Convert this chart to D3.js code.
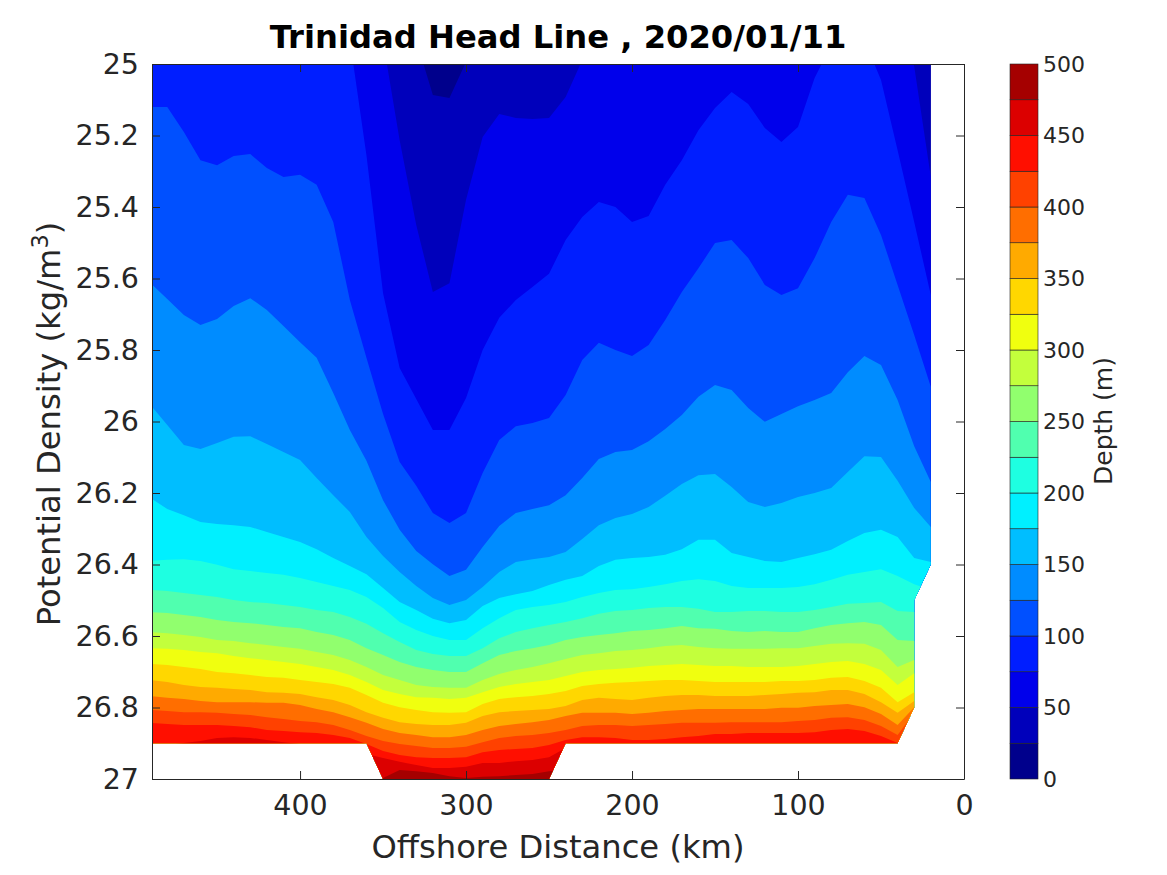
<!DOCTYPE html>
<html>
<head>
<meta charset="utf-8">
<script src="https://cdn.jsdelivr.net/npm/d3@7"></script>
<style>
body { margin: 0; background: #fff; }
text { font-family: "DejaVu Sans", sans-serif; }
</style>
</head>
<body>
<div id="chart"></div>
<script>
// stations along the line, km offshore
const distanceKm = [490,480,470,460,450,440,430,420,410,400,390,380,370,360,350,340,330,320,310,300,290,280,270,260,250,240,230,220,210,200,190,180,170,160,150,140,130,120,110,100,90,80,70,60,50,40,30,20];

// density of each depth surface at every station (values under 25 are above the plot)
const iso25 = [24.8,24.8,24.8,24.8,24.8,24.8,24.8,24.8,24.8,24.8,24.8,24.8,24.8,24.8,24.8,24.8,24.933,25.087,25.095,24.994,24.9,24.8,24.8,24.8,24.8,24.8,24.8,24.8,24.8,24.8,24.8,24.8,24.8,24.8,24.8,24.8,24.8,24.8,24.8,24.8,24.8,24.8,24.8,24.8,24.8,24.8,24.8,24.8];
const iso50 = [24.8,24.8,24.8,24.8,24.8,24.8,24.8,24.8,24.8,24.8,24.8,24.8,24.8,24.8,24.936,25.213,25.450,25.638,25.613,25.380,25.204,25.140,25.151,25.154,25.151,25.092,24.989,24.905,24.8,24.8,24.8,24.8,24.8,24.8,24.8,24.8,24.8,24.8,24.8,24.8,24.8,24.8,24.8,24.8,24.8,24.9,25.006,25.316];
const iso75 = [24.8,24.8,24.8,24.8,24.8,24.8,24.8,24.8,24.8,24.8,24.8,24.8,24.933,25.255,25.641,25.850,25.937,26.024,26.024,25.934,25.800,25.710,25.660,25.624,25.587,25.492,25.428,25.386,25.400,25.442,25.425,25.338,25.269,25.185,25.123,25.078,25.112,25.179,25.218,25.176,25.039,24.947,24.905,24.933,25.045,25.241,25.442,25.646];
const iso100 = [25.120,25.120,25.190,25.269,25.283,25.257,25.252,25.291,25.316,25.310,25.338,25.442,25.660,25.822,25.979,26.113,26.180,26.256,26.284,26.256,26.144,26.052,26.013,26.004,25.990,25.926,25.828,25.780,25.800,25.817,25.786,25.716,25.638,25.571,25.501,25.492,25.543,25.618,25.646,25.627,25.543,25.442,25.366,25.375,25.478,25.618,25.758,25.903];
const iso125 = [25.613,25.657,25.702,25.730,25.713,25.677,25.655,25.688,25.733,25.778,25.822,25.920,26.024,26.110,26.220,26.303,26.362,26.399,26.432,26.415,26.351,26.292,26.256,26.245,26.234,26.206,26.158,26.105,26.085,26.080,26.055,26.021,25.982,25.931,25.898,25.912,25.962,26.001,25.979,25.957,25.940,25.920,25.862,25.817,25.842,25.940,26.069,26.169];
const iso150 = [25.954,26.010,26.066,26.077,26.060,26.043,26.041,26.063,26.085,26.108,26.158,26.206,26.253,26.323,26.376,26.421,26.460,26.494,26.513,26.499,26.463,26.421,26.393,26.385,26.379,26.365,26.329,26.290,26.270,26.259,26.239,26.208,26.175,26.150,26.147,26.183,26.225,26.239,26.228,26.211,26.200,26.186,26.141,26.097,26.099,26.166,26.242,26.295];
const iso175 = [26.214,26.245,26.262,26.281,26.287,26.290,26.295,26.309,26.323,26.337,26.357,26.382,26.404,26.427,26.466,26.505,26.527,26.552,26.564,26.555,26.516,26.494,26.483,26.474,26.457,26.443,26.432,26.404,26.387,26.382,26.379,26.373,26.357,26.331,26.331,26.368,26.379,26.390,26.393,26.382,26.371,26.359,26.334,26.312,26.303,26.323,26.382,26.393];
const iso200 = [26.390,26.387,26.385,26.390,26.401,26.413,26.418,26.424,26.429,26.438,26.449,26.460,26.471,26.491,26.522,26.561,26.583,26.600,26.611,26.611,26.578,26.550,26.527,26.519,26.513,26.505,26.491,26.480,26.471,26.469,26.463,26.455,26.446,26.441,26.446,26.460,26.466,26.466,26.466,26.463,26.455,26.443,26.429,26.421,26.413,26.432,26.455,26.471];
const iso225 = [26.471,26.474,26.480,26.485,26.491,26.499,26.505,26.508,26.513,26.519,26.527,26.533,26.547,26.566,26.592,26.617,26.639,26.650,26.656,26.656,26.634,26.606,26.589,26.578,26.569,26.561,26.550,26.538,26.530,26.527,26.522,26.519,26.519,26.524,26.533,26.533,26.530,26.530,26.533,26.533,26.527,26.519,26.510,26.508,26.505,26.530,26.533,26.541];
const iso250 = [26.533,26.536,26.541,26.547,26.555,26.561,26.564,26.569,26.575,26.578,26.589,26.597,26.611,26.634,26.653,26.673,26.687,26.695,26.701,26.701,26.676,26.653,26.642,26.634,26.625,26.611,26.603,26.597,26.592,26.586,26.583,26.578,26.572,26.578,26.580,26.586,26.589,26.586,26.589,26.589,26.578,26.569,26.564,26.561,26.569,26.611,26.614,26.625];
const iso275 = [26.589,26.592,26.597,26.603,26.611,26.614,26.620,26.625,26.631,26.636,26.645,26.653,26.667,26.687,26.709,26.723,26.737,26.743,26.745,26.745,26.723,26.706,26.695,26.687,26.676,26.664,26.653,26.648,26.642,26.639,26.634,26.628,26.625,26.631,26.634,26.636,26.636,26.636,26.634,26.634,26.628,26.622,26.620,26.622,26.639,26.687,26.667,26.673];
const iso300 = [26.634,26.636,26.639,26.645,26.648,26.656,26.662,26.667,26.673,26.678,26.687,26.695,26.709,26.729,26.751,26.762,26.771,26.773,26.776,26.773,26.757,26.743,26.734,26.729,26.723,26.712,26.701,26.695,26.692,26.689,26.684,26.681,26.678,26.681,26.684,26.684,26.687,26.687,26.687,26.684,26.678,26.673,26.670,26.678,26.695,26.737,26.704,26.709];
const iso325 = [26.678,26.681,26.687,26.692,26.701,26.704,26.709,26.715,26.717,26.723,26.729,26.734,26.745,26.765,26.787,26.799,26.807,26.813,26.815,26.813,26.790,26.776,26.771,26.768,26.762,26.754,26.740,26.734,26.731,26.729,26.726,26.723,26.723,26.726,26.729,26.729,26.729,26.729,26.726,26.726,26.723,26.717,26.715,26.726,26.745,26.785,26.757,26.765];
const iso350 = [26.723,26.729,26.737,26.743,26.745,26.748,26.751,26.757,26.759,26.762,26.771,26.779,26.793,26.813,26.829,26.841,26.846,26.849,26.849,26.843,26.824,26.813,26.810,26.807,26.804,26.796,26.779,26.773,26.776,26.779,26.773,26.768,26.765,26.765,26.768,26.768,26.768,26.765,26.762,26.759,26.757,26.751,26.751,26.762,26.785,26.815,26.782,26.793];
const iso375 = [26.768,26.773,26.776,26.782,26.785,26.785,26.785,26.787,26.787,26.793,26.804,26.813,26.827,26.843,26.860,26.871,26.877,26.883,26.883,26.877,26.863,26.852,26.846,26.841,26.835,26.824,26.815,26.815,26.815,26.818,26.815,26.810,26.807,26.804,26.804,26.804,26.804,26.804,26.801,26.801,26.796,26.793,26.790,26.799,26.818,26.849,26.799,26.807];
const iso400 = [26.807,26.810,26.813,26.813,26.815,26.818,26.821,26.827,26.832,26.838,26.841,26.849,26.863,26.880,26.894,26.902,26.908,26.913,26.913,26.910,26.897,26.885,26.880,26.877,26.871,26.863,26.852,26.849,26.849,26.852,26.849,26.846,26.843,26.843,26.843,26.841,26.841,26.841,26.841,26.838,26.835,26.829,26.827,26.835,26.852,26.877,26.815,26.824];
const iso425 = [26.843,26.846,26.849,26.849,26.849,26.852,26.855,26.863,26.866,26.869,26.871,26.877,26.885,26.902,26.922,26.933,26.939,26.941,26.941,26.939,26.925,26.919,26.916,26.913,26.905,26.891,26.883,26.883,26.885,26.891,26.891,26.888,26.883,26.880,26.874,26.874,26.871,26.871,26.871,26.871,26.869,26.863,26.860,26.866,26.880,26.899,26.835,26.841];
const iso450 = [26.908,26.905,26.899,26.894,26.885,26.883,26.885,26.891,26.897,26.902,26.908,26.913,26.919,26.930,26.941,26.952,26.961,26.969,26.969,26.966,26.955,26.955,26.950,26.947,26.939,26.913,26.95,26.95,26.95,26.95,26.95,26.95,26.95,26.95,26.95,26.95,26.95,26.95,26.95,26.95,26.95,26.95,26.95,26.95,26.95,26.95,26.95,26.95];
const iso475 = [27.1,27.1,27.1,27.1,27.1,27.1,27.1,27.1,27.1,27.1,27.1,27.1,27.1,26.989,26.997,26.975,26.978,26.983,26.992,26.997,26.994,26.992,26.989,26.986,26.978,26.975,27.1,27.1,27.1,27.1,27.1,27.1,27.1,27.1,27.1,27.1,27.1,27.1,27.1,27.1,27.1,27.1,27.1,27.1,27.1,27.1,27.1,27.1];

const isoLevels = [25,50,75,100,125,150,175,200,225,250,275,300,325,350,375,400,425,450,475];
const isolines = [iso25,iso50,iso75,iso100,iso125,iso150,iso175,iso200,iso225,iso250,iso275,iso300,iso325,iso350,iso375,iso400,iso425,iso450,iso475];

// one colour per 25 m band, shallow to deep
const bandColors = ["#00008c","#0000bb","#0000eb","#001eff","#0050ff","#008cff","#00beff","#00f0ff","#1effe1","#50ffaf","#91ff6e","#c3ff3c","#f0ff0f","#ffd700","#ffaa00","#ff6e00","#ff4100","#ff0f00","#dc0000","#a50000"];

// edge of the gridded data, the rest of the plot stays white
const edgeDistance = [489.2,20,20,30,30,40,240,250,350,360,489.2];
const edgeDensity = [25,25,26.4,26.5,26.8,26.9,26.9,27,27,26.9,26.9];

const xTicks = [400,300,200,100,0];
const yTicks = [25,25.2,25.4,25.6,25.8,26,26.2,26.4,26.6,26.8,27];
const barTicks = [0,50,100,150,200,250,300,350,400,450,500];

const plot = {left:152, right:964, top:64, bottom:779};
const axisColor = "#262626";

const svg = d3.select("#chart").append("svg")
	.attr("width",1167)
	.attr("height",875);

const x = d3.scaleLinear().domain([489.2,0]).range([plot.left,plot.right]);
const y = d3.scaleLinear().domain([25,27]).range([plot.top,plot.bottom]);

const edge = d3.line()
	.x((d,i) => x(edgeDistance[i]))
	.y(d => y(d));

svg.append("clipPath").attr("id","dataEdge")
	.append("path")
	.attr("d",edge(edgeDensity) + "Z");

const field = svg.append("g").attr("clip-path","url(#dataEdge)");

field.append("rect")
	.attr("x",plot.left)
	.attr("y",plot.top)
	.attr("width",plot.right - plot.left)
	.attr("height",plot.bottom - plot.top)
	.attr("fill",bandColors[0]);

const band = d3.area()
	.x((d,i) => x(distanceKm[i]))
	.y0(y(27))
	.y1(d => y(d));

// deeper bands are painted on top of the shallower ones
field.selectAll("path.band")
	.data(isolines)
	.join("path")
	.attr("class","band")
	.attr("d",d => band(d))
	.attr("fill",(d,i) => bandColors[i+1]);

// axes box, ticks point inward
function styleAxis(g,fontSize) {
	g.selectAll(".domain").attr("stroke",axisColor).attr("stroke-width",1);
	g.selectAll(".tick line").attr("stroke",axisColor).attr("stroke-width",1);
	g.selectAll(".tick text").attr("fill",axisColor).attr("font-size",fontSize).attr("font-family","DejaVu Sans");
}

svg.append("g")
	.attr("transform",`translate(0,${plot.bottom})`)
	.call(d3.axisBottom(x).tickValues(xTicks).tickSizeInner(-8).tickSizeOuter(0).tickPadding(16).tickFormat(d => d))
	.call(styleAxis,28.5);

svg.append("g")
	.attr("transform",`translate(0,${plot.top})`)
	.call(d3.axisTop(x).tickValues(xTicks).tickSizeInner(-8).tickSizeOuter(0).tickFormat(""))
	.call(styleAxis,28.5);

svg.append("g")
	.attr("transform",`translate(${plot.left},0)`)
	.call(d3.axisLeft(y).tickValues(yTicks).tickSizeInner(-8).tickSizeOuter(0).tickPadding(13).tickFormat(d => d))
	.call(styleAxis,28.5);

svg.append("g")
	.attr("transform",`translate(${plot.right},0)`)
	.call(d3.axisRight(y).tickValues(yTicks).tickSizeInner(-8).tickSizeOuter(0).tickFormat(""))
	.call(styleAxis,28.5);

svg.append("text")
	.attr("x",558)
	.attr("y",48)
	.attr("text-anchor","middle")
	.attr("font-size",32.2)
	.attr("font-weight","bold")
	.attr("fill","#000")
	.text("Trinidad Head Line , 2020/01/11");

svg.append("text")
	.attr("x",558)
	.attr("y",858)
	.attr("text-anchor","middle")
	.attr("font-size",32.2)
	.attr("fill",axisColor)
	.text("Offshore Distance (km)");

const yLabel = svg.append("text")
	.attr("transform","translate(60,424) rotate(-90)")
	.attr("text-anchor","middle")
	.attr("font-size",32.2)
	.attr("fill",axisColor);
yLabel.append("tspan").text("Potential Density (kg/m");
yLabel.append("tspan").attr("dy",-12).attr("font-size",22.5).text("3");
yLabel.append("tspan").attr("dy",12).text(")");

// colorbar
const bar = {left:1010, right:1038};
const barScale = d3.scaleLinear().domain([0,500]).range([plot.bottom,plot.top]);
const barEdges = [0].concat(isoLevels);

svg.selectAll("rect.swatch")
	.data(barEdges)
	.join("rect")
	.attr("class","swatch")
	.attr("x",bar.left)
	.attr("width",bar.right - bar.left)
	.attr("y",d => barScale(d + 25))
	.attr("height",d => barScale(d) - barScale(d + 25))
	.attr("fill",(d,i) => bandColors[i])
	.attr("stroke","#222")
	.attr("stroke-width",0.6);

svg.append("g")
	.attr("transform",`translate(${bar.right},0)`)
	.call(d3.axisRight(barScale).tickValues(barTicks).tickSize(0).tickPadding(5).tickFormat(d => d))
	.call(styleAxis,22)
	.call(g => g.select(".domain").remove());

svg.append("text")
	.attr("transform","translate(1112,421) rotate(-90)")
	.attr("text-anchor","middle")
	.attr("font-size",25)
	.attr("fill",axisColor)
	.text("Depth (m)");
</script>
</body>
</html>
